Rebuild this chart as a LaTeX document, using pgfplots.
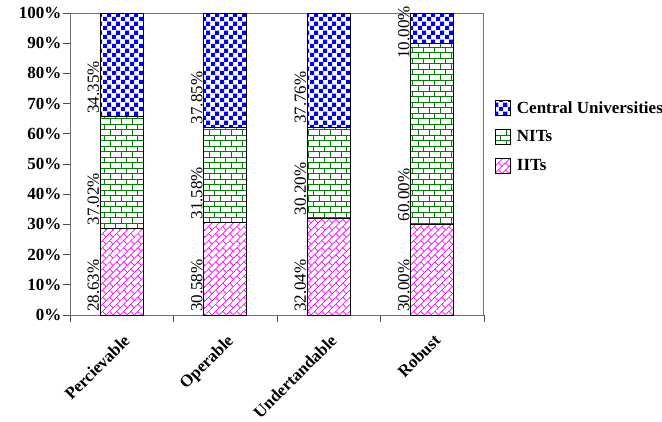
\documentclass[border=0pt]{standalone}
\usepackage{fontspec}
\setmainfont{Liberation Serif}
\usepackage{pgfplots}
\pgfplotsset{compat=1.18}
\usetikzlibrary{patterns,patterns.meta}

\definecolor{cublue}{RGB}{0,0,255}
\definecolor{nitgreen}{RGB}{0,128,0}
\definecolor{iitmag}{RGB}{255,0,255}

% checkerboard for Central Universities
\tikzdeclarepattern{
  name=cuchecker,
  type=uncolored,
  bottom left={(0pt,0pt)},
  top right={(8.6pt,8.6pt)},
  tile size={(8.6pt,8.6pt)},
  code={
    \fill (0pt,0pt) rectangle (4.3pt,4.3pt);
    \fill (4.3pt,4.3pt) rectangle (8.6pt,8.6pt);
  }
}
% horizontal bricks for NITs
\tikzdeclarepattern{
  name=nitbricks,
  type=uncolored,
  bottom left={(-0.5pt,-0.5pt)},
  top right={(11.5pt,11.5pt)},
  tile size={(11pt,11pt)},
  code={
    \draw[line width=0.8pt] (0pt,0pt) -- (11pt,0pt);
    \draw[line width=0.8pt] (0pt,5.5pt) -- (11pt,5.5pt);
    \draw[line width=0.8pt] (0pt,0pt) -- (0pt,5.5pt);
    \draw[line width=0.8pt] (5.5pt,5.5pt) -- (5.5pt,11pt);
  }
}
% diagonal bricks for IITs
\tikzdeclarepattern{
  name=iitdiag,
  type=uncolored,
  bottom left={(-0.5pt,-0.5pt)},
  top right={(10.5pt,10.5pt)},
  tile size={(10pt,10pt)},
  tile transformation={rotate=45},
  code={
    \draw[line width=0.7pt] (0pt,0pt) -- (10pt,0pt);
    \draw[line width=0.7pt] (0pt,5pt) -- (10pt,5pt);
    \draw[line width=0.7pt] (0pt,0pt) -- (0pt,5pt);
    \draw[line width=0.7pt] (5pt,5pt) -- (5pt,10pt);
  }
}

\pgfplotsset{
  sqlegend/.style={legend image code/.code={
    \draw[##1,draw=black,line width=0.6pt] (0pt,-7.5pt) rectangle (15pt,7.5pt);}},
  frame/.style={
    at={(70pt,106pt)}, anchor=south west,
    scale only axis, width=414pt, height=302pt,
    xmin=-0.5, xmax=3.5, ymin=0, ymax=100},
}

\begin{document}
\begin{tikzpicture}[font=\fontsize{17}{20}\selectfont]
\useasboundingbox (0pt,0pt) rectangle (662pt,421pt);
\begin{axis}[
  frame,
  ybar stacked, bar width=43pt,
  xtick={-0.5,0.5,1.5,2.5,3.5},
  x tick label as interval,
  xticklabels={Percievable,Operable,Undertandable,Robust},
  ytick={0,10,...,100},
  yticklabels={0\%,10\%,20\%,30\%,40\%,50\%,60\%,70\%,80\%,90\%,100\%},
  tick pos=left, tick align=outside,
  major tick length=7pt,
  tick style={draw=black!70, line width=0.8pt},
  axis line style={draw=black!55, line width=1pt},
  tick label style={font=\fontsize{17}{20}\selectfont\bfseries},
  yticklabel style={xshift=2pt},
  xticklabel style={rotate=45, anchor=north east, xshift=-4pt, yshift=-5pt},
  legend style={at={(1.027,0.715)}, anchor=north west, draw=none, fill=none,
    inner sep=0pt, font=\fontsize{17}{20}\selectfont\bfseries, row sep=12pt,
    /tikz/every odd column/.append style={column sep=4pt}},
  legend cell align=left,
  reverse legend,
]
\addplot[draw=black, line width=0.6pt, pattern=iitdiag, pattern color=iitmag, sqlegend]
  coordinates {(0,28.63) (1,30.58) (2,32.04) (3,30.00)};
\addlegendentry{IITs}
\addplot[draw=black, line width=0.6pt, pattern=nitbricks, pattern color=nitgreen, sqlegend]
  coordinates {(0,37.02) (1,31.58) (2,30.20) (3,60.00)};
\addlegendentry{NITs}
\addplot[draw=black, line width=0.6pt, pattern=cuchecker, pattern color=cublue, sqlegend]
  coordinates {(0,34.35) (1,37.85) (2,37.76) (3,10.00)};
\addlegendentry{Central Universities}
\end{axis}

% value labels, at the left edge of each segment
\begin{axis}[frame, hide axis]
\addplot[draw=none, mark=none, nodes near coords, point meta=explicit symbolic,
  every node near coord/.style={rotate=90, anchor=south west,
    inner xsep=3pt, inner ysep=1pt,
    font=\fontsize{17}{20}\selectfont}]
coordinates {
  (-0.208,0) [28.63\%]
  (-0.208,28.63) [37.02\%]
  (-0.208,65.65) [34.35\%]
  (0.792,0) [30.58\%]
  (0.792,30.58) [31.58\%]
  (0.792,62.16) [37.85\%]
  (1.792,0) [32.04\%]
  (1.792,32.04) [30.20\%]
  (1.792,62.24) [37.76\%]
  (2.792,0) [30.00\%]
  (2.792,30.00) [60.00\%]
  (2.792,83.8) [10.00\%]
};
\end{axis}
\end{tikzpicture}
\end{document}
